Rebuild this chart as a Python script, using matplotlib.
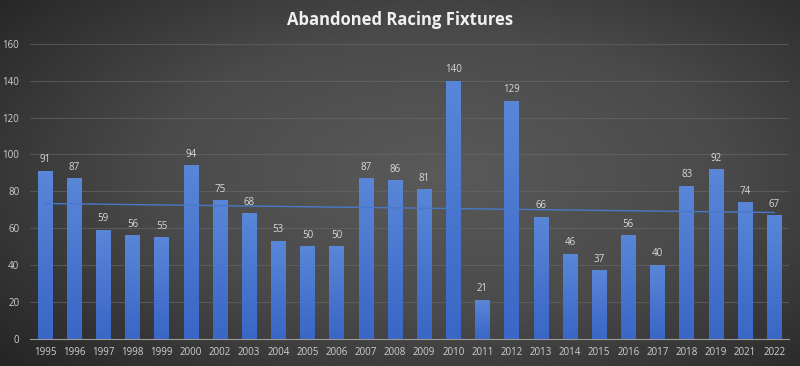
import matplotlib
matplotlib.use("Agg")
import matplotlib.pyplot as plt
import numpy as np
from matplotlib.colors import LinearSegmentedColormap

years = ["1995", "1996", "1997", "1998", "1999", "2000", "2002", "2003", "2004",
         "2005", "2006", "2007", "2008", "2009", "2010", "2011", "2012", "2013",
         "2014", "2015", "2016", "2017", "2018", "2019", "2021", "2022"]
fixtures = [91, 87, 59, 56, 55, 94, 75, 68, 53, 50, 50, 87, 86, 81, 140, 21,
            129, 66, 46, 37, 56, 40, 83, 92, 74, 67]
y_ticks = [0, 20, 40, 60, 80, 100, 120, 140, 160]

plt.rcParams["font.family"] = ["Open Sans", "DejaVu Sans"]

fig = plt.figure(figsize=(8, 3.66), dpi=100)

# radial grey background, lighter in the middle, dark in the corners
bg = fig.add_axes([0, 0, 1, 1], zorder=0)
yy, xx = np.mgrid[-1:1:200j, -1:1:400j]
r = np.sqrt(((xx - 0.1) / 1.1) ** 2 + ((yy + 0.05) / 1.2) ** 2)
bg_cmap = LinearSegmentedColormap.from_list("g", ["#5a5a5a", "#4a4a4a", "#262626"])
bg.imshow(np.clip(r, 0, 1.3), cmap=bg_cmap, vmin=0, vmax=1.3, aspect="auto",
          extent=[0, 1, 0, 1])
bg.set_axis_off()

ax = fig.add_axes([0.038, 0.075, 0.948, 0.805], zorder=1)
ax.patch.set_alpha(0)

x = np.arange(len(years))
bars = ax.bar(x, fixtures, width=0.5, color="#4472c4", zorder=2)

grad = np.linspace(0, 1, 100).reshape(-1, 1)
bar_cmap = LinearSegmentedColormap.from_list("b", ["#3a66c6", "#5a86d8"])
for b in bars:
    im = ax.imshow(grad, cmap=bar_cmap, aspect="auto", origin="lower",
                   extent=[b.get_x(), b.get_x() + b.get_width(), 0, b.get_height()],
                   zorder=2.5)
    im.set_clip_path(b)

for xi, v in zip(x, fixtures):
    ax.text(xi, v + 3, str(v), ha="center", va="bottom", fontsize=7,
            color="#d9d9d9", zorder=4)

# linear trendline
coef = np.polyfit(x, fixtures, 1)
ax.plot(x, np.polyval(coef, x), color="#4a78c8", linewidth=1.0, zorder=3)

ax.set_xlim(-0.5, len(years) - 0.5)
ax.set_ylim(0, 160)
ax.set_yticks(y_ticks)
ax.set_xticks(x)
ax.set_xticklabels(years)
ax.tick_params(axis="both", length=0, labelsize=7, colors="#d0d0d0")
ax.tick_params(axis="y", pad=8)
ax.tick_params(axis="x", pad=6)
ax.grid(axis="y", color="#6a6a6a", linewidth=0.8, alpha=0.6, zorder=1)
ax.set_axisbelow(True)
for s in ["top", "right", "left"]:
    ax.spines[s].set_visible(False)
ax.spines["bottom"].set_color("#9a9a9a")
ax.spines["bottom"].set_zorder(5)

fig.text(0.5, 0.945, "Abandoned Racing Fixtures", ha="center", va="center",
         fontsize=12, fontweight="bold", color="#f0f0f0")

fig.savefig("out.png", dpi=100)
